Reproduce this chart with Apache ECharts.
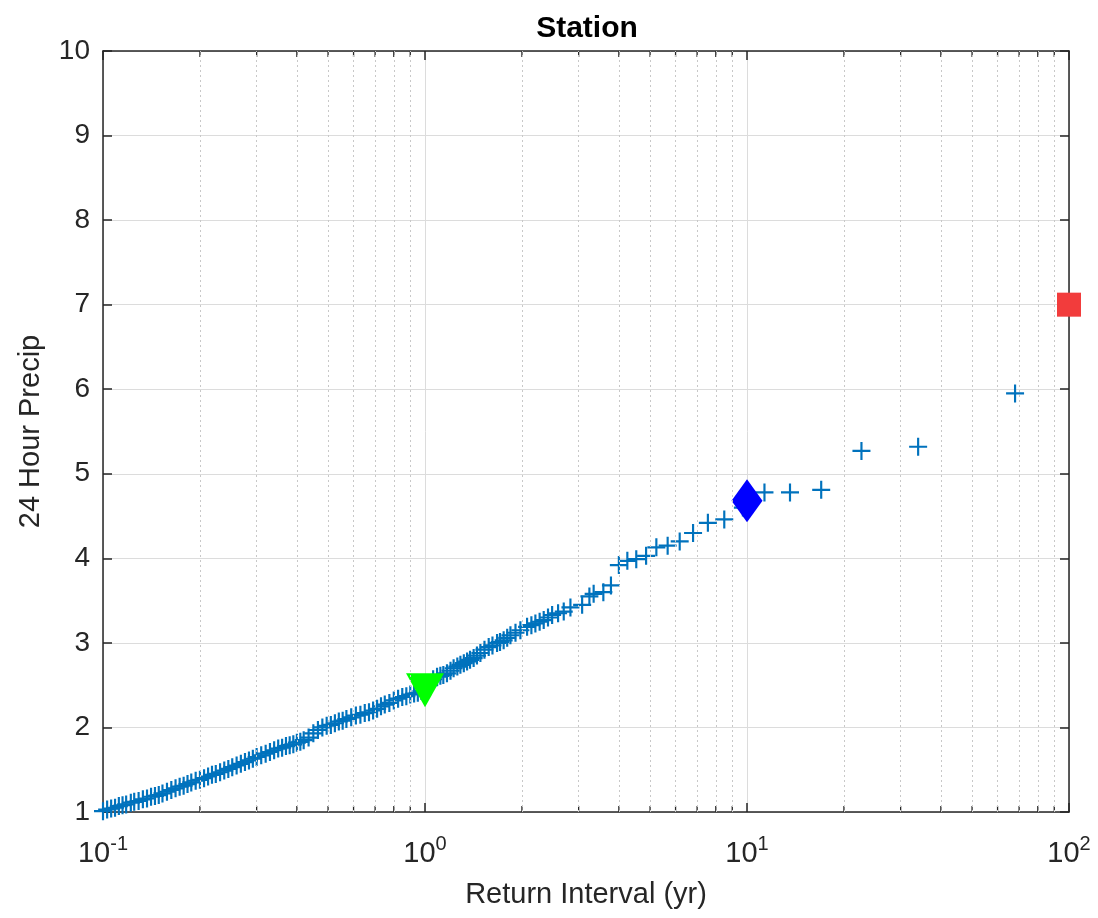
<!DOCTYPE html>
<html>
<head>
<meta charset="utf-8">
<script src="https://cdn.jsdelivr.net/npm/echarts@6/dist/echarts.min.js"></script>
<style>
  html, body { margin: 0; padding: 0; background: #fff; }
  #chart { width: 1098px; height: 918px; }
</style>
</head>
<body>
<div id="chart"></div>
<script>
// return interval (yr) of each event
const returnInterval = [
  0.100, 0.103, 0.106, 0.109, 0.112, 0.115, 0.118, 0.122, 0.125, 0.129,
  0.133, 0.137, 0.141, 0.145, 0.149, 0.153, 0.158, 0.163, 0.168, 0.173,
  0.178, 0.183, 0.188, 0.194, 0.200, 0.206, 0.212, 0.218, 0.224, 0.231,
  0.238, 0.245, 0.252, 0.260, 0.268, 0.276, 0.284, 0.292, 0.300, 0.310,
  0.320, 0.330, 0.340, 0.350, 0.360, 0.370, 0.380, 0.390, 0.400, 0.410,
  0.420, 0.435, 0.450, 0.465, 0.480, 0.495, 0.510, 0.525, 0.540, 0.555,
  0.570, 0.590, 0.610, 0.630, 0.650, 0.670, 0.690, 0.710, 0.730, 0.750,
  0.775, 0.800, 0.825, 0.850, 0.875, 0.900, 0.925, 0.950, 0.975, 1.00,
  1.03, 1.06, 1.09, 1.116, 1.14, 1.17, 1.20, 1.227, 1.26, 1.288,
  1.32, 1.351, 1.38, 1.416, 1.45, 1.486, 1.53, 1.577, 1.62, 1.674,
  1.71, 1.755, 1.80, 1.842, 1.91, 1.978, 2.075, 2.14, 2.202, 2.27,
  2.337, 2.41, 2.482, 2.59, 2.697, 2.829, 3.076, 3.24, 3.34, 3.58,
  3.78, 4.00, 4.25, 4.53, 4.86, 5.23, 5.67, 6.18, 6.80, 7.56,
  8.50, 9.71, 11.33, 13.60, 17.00, 22.67, 34.00, 68.00
];
// 24 hour precipitation of each event
const precip = [
  1.01, 1.03, 1.04, 1.05, 1.07, 1.08, 1.09, 1.11, 1.12, 1.13,
  1.15, 1.16, 1.18, 1.19, 1.20, 1.22, 1.24, 1.26, 1.28, 1.30,
  1.31, 1.33, 1.35, 1.37, 1.38, 1.40, 1.42, 1.44, 1.45, 1.47,
  1.49, 1.51, 1.53, 1.55, 1.57, 1.59, 1.61, 1.63, 1.65, 1.67,
  1.69, 1.71, 1.73, 1.75, 1.76, 1.78, 1.79, 1.80, 1.82, 1.83,
  1.85, 1.88, 1.93, 1.97, 2.00, 2.02, 2.03, 2.05, 2.07, 2.08,
  2.10, 2.12, 2.14, 2.15, 2.17, 2.18, 2.20, 2.22, 2.25, 2.27,
  2.29, 2.32, 2.34, 2.36, 2.37, 2.39, 2.40, 2.41, 2.43, 2.45,
  2.50, 2.57, 2.60, 2.61, 2.62, 2.64, 2.67, 2.70, 2.72, 2.74,
  2.76, 2.78, 2.80, 2.82, 2.85, 2.88, 2.92, 2.95, 2.97, 3.00,
  3.01, 3.03, 3.06, 3.09, 3.12, 3.15, 3.19, 3.21, 3.23, 3.25,
  3.27, 3.30, 3.33, 3.35, 3.37, 3.42, 3.45, 3.55, 3.58, 3.60,
  3.68, 3.92, 3.97, 3.99, 4.03, 4.13, 4.15, 4.20, 4.30, 4.42,
  4.46, 4.60, 4.78, 4.78, 4.81, 5.27, 5.32, 5.95
];

// design values [return interval, precip]
const oneYear = [1, 2.44];
const tenYear = [10, 4.68];
const hundredYear = [100, 7.0];

// minor grid positions on the log axis
const minorTicks = [0.2, 0.3, 0.4, 0.5, 0.6, 0.7, 0.8, 0.9,
                    2, 3, 4, 5, 6, 7, 8, 9,
                    20, 30, 40, 50, 60, 70, 80, 90];

const axisColor = '#262626';
const font = '"Liberation Sans", Arial, Helvetica, sans-serif';
const plusPath = 'path://M-1.2,-10h2.4v20h-2.4zM-10,-1.2h20v2.4h-20z';

const chart = echarts.init(document.getElementById('chart'));

const events = returnInterval.map((t, i) => [t, precip[i]]);

chart.setOption({
  backgroundColor: '#fff',
  animation: false,
  title: {
    text: 'Station',
    left: 582,
    textAlign: 'center',
    top: 9,
    textStyle: { fontFamily: font, fontSize: 30, fontWeight: 'bold', color: '#000' }
  },
  grid: { left: 103, right: 29, top: 51, bottom: 106 },
  xAxis: [{
    type: 'log',
    logBase: 10,
    min: 0.1,
    max: 100,
    splitNumber: 3,
    name: 'Return Interval (yr)',
    nameLocation: 'middle',
    nameGap: 68,
    nameTextStyle: { fontFamily: font, fontSize: 29, color: '#262626' },
    axisLine: { lineStyle: { color: axisColor, width: 1.5 } },
    axisTick: { inside: true, length: 9, lineStyle: { color: axisColor, width: 1.5 } },
    minorTick: { show: false },
    splitLine: { show: true, lineStyle: { color: '#dcdcdc', width: 1 } },
    axisLabel: {
      margin: 22,
      formatter: function (v) {
        const e = Math.round(Math.log10(v));
        return '{b|10}{s|' + e + '}';
      },
      rich: {
        b: { fontFamily: font, fontSize: 29, color: '#262626' },
        s: { fontFamily: font, fontSize: 20, color: '#262626', verticalAlign: 'bottom', padding: [0, 0, 20, 0] }
      }
    }
  }, {
    type: 'log',
    logBase: 10,
    min: 0.1,
    max: 100,
    splitNumber: 3,
    position: 'top',
    axisLine: { lineStyle: { color: axisColor, width: 1.5 } },
    axisTick: { inside: true, length: 9, lineStyle: { color: axisColor, width: 1.5 } },
    axisLabel: { show: false },
    splitLine: { show: false }
  }],
  yAxis: [{
    type: 'value',
    min: 1,
    max: 10,
    interval: 1,
    name: '24 Hour Precip',
    nameLocation: 'middle',
    nameGap: 58,
    nameTextStyle: { fontFamily: font, fontSize: 29, color: '#262626' },
    axisLine: { show: true, lineStyle: { color: axisColor, width: 1.5 } },
    axisTick: { show: true, inside: true, length: 9, lineStyle: { color: axisColor, width: 1.5 } },
    splitLine: { show: true, lineStyle: { color: '#dcdcdc', width: 1 } },
    axisLabel: { margin: 13, fontFamily: font, fontSize: 28, color: '#262626' }
  }, {
    type: 'value',
    min: 1,
    max: 10,
    interval: 1,
    position: 'right',
    axisLine: { show: true, lineStyle: { color: axisColor, width: 1.5 } },
    axisTick: { show: true, inside: true, length: 9, lineStyle: { color: axisColor, width: 1.5 } },
    axisLabel: { show: false },
    splitLine: { show: false }
  }],
  series: [
    {
      // minor ticks along the bottom edge + dotted minor grid
      type: 'scatter',
      clip: false,
      silent: true,
      z: 1,
      symbol: 'rect',
      symbolSize: [1.3, 6],
      symbolOffset: [0, -3],
      itemStyle: { color: axisColor, opacity: 1 },
      data: minorTicks.map(v => [v, 1]),
      markLine: {
        silent: true,
        symbol: 'none',
        label: { show: false },
        lineStyle: { color: '#c8c8c8', width: 1, type: [2, 3] },
        data: minorTicks.map(v => ({ xAxis: v }))
      }
    },
    {
      // minor ticks along the top edge
      type: 'scatter',
      clip: false,
      silent: true,
      z: 1,
      symbol: 'rect',
      symbolSize: [1.3, 6],
      symbolOffset: [0, 3],
      itemStyle: { color: axisColor, opacity: 1 },
      data: minorTicks.map(v => [v, 10])
    },
    {
      type: 'scatter',
      z: 3,
      symbol: plusPath,
      symbolSize: 18,
      itemStyle: { color: '#0072bd', opacity: 1 },
      data: events
    },
    {
      type: 'scatter',
      z: 4,
      symbol: 'path://M0,0L2,0L1,1.9Z',
      symbolSize: [38, 34],
      itemStyle: { color: '#00ff00', opacity: 1 },
      data: [oneYear]
    },
    {
      type: 'scatter',
      z: 4,
      symbol: 'diamond',
      symbolSize: [31, 43],
      itemStyle: { color: '#0000ff', opacity: 1 },
      data: [tenYear]
    },
    {
      type: 'scatter',
      z: 4,
      clip: false,
      symbol: 'rect',
      symbolSize: 24,
      itemStyle: { color: '#f23c3c', opacity: 1 },
      data: [hundredYear]
    }
  ]
});
</script>
</body>
</html>
